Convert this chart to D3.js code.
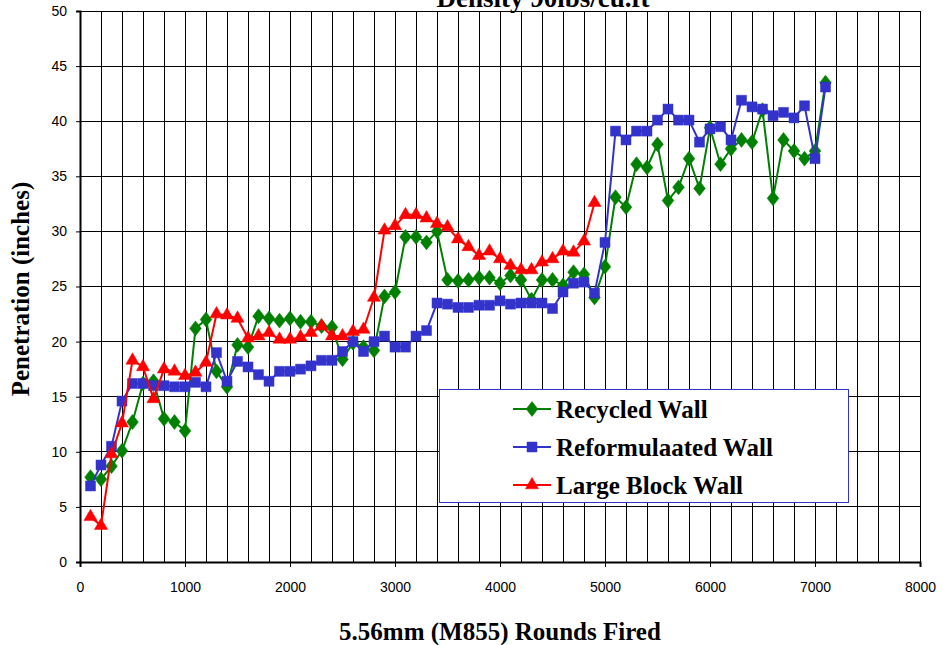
<!DOCTYPE html>
<html>
<head>
<meta charset="utf-8">
<script src="https://cdn.jsdelivr.net/npm/d3@7"></script>
<style>
html,body{margin:0;padding:0;background:#fff;}
svg{display:block;}
</style>
</head>
<body>
<script>
const rounds = [100,200,300,400,500,600,700,800,900,1000,1100,1200,1300,1400,1500,1600,1700,1800,1900,2000,2100,2200,2300,2400,2500,2600,2700,2800,2900,3000,3100,3200,3300,3400,3500,3600,3700,3800,3900,4000,4100,4200,4300,4400,4500,4600,4700,4800,4900,5000,5100,5200,5300,5400,5500,5600,5700,5800,5900,6000,6100,6200,6300,6400,6500,6600,6700,6800,6900,7000,7100];
const recycled = [7.7,7.5,8.7,10.1,12.7,16.2,16.4,13.0,12.7,11.9,21.2,22.0,17.3,15.9,19.7,19.5,22.3,22.1,21.9,22.1,21.8,21.8,21.4,21.3,18.4,19.9,19.5,19.2,24.1,24.5,29.5,29.5,29.0,30.0,25.6,25.5,25.6,25.8,25.8,25.3,26.0,25.6,23.8,25.6,25.6,25.1,26.3,26.1,24.0,26.8,33.1,32.2,36.1,35.8,37.9,32.8,34.0,36.6,33.9,39.4,36.1,37.5,38.3,38.1,41.0,33.0,38.3,37.3,36.6,37.3,43.5];
const reformulated = [6.9,8.8,10.5,14.6,16.2,16.2,16.0,16.0,15.9,15.9,16.3,15.9,19.0,16.4,18.2,17.7,17.0,16.4,17.3,17.3,17.5,17.8,18.3,18.3,19.1,20.0,19.1,20.0,20.5,19.5,19.5,20.5,21.0,23.5,23.4,23.1,23.1,23.3,23.3,23.7,23.4,23.5,23.5,23.5,23.0,24.5,25.3,25.4,24.4,29.0,39.1,38.3,39.1,39.1,40.1,41.1,40.1,40.1,38.1,39.3,39.5,38.3,41.9,41.3,41.1,40.5,40.8,40.3,41.4,36.6,43.1];
const largeBlock = [4.1,3.3,9.8,12.6,18.3,17.7,14.8,17.5,17.3,16.9,17.2,18.1,22.5,22.4,22.1,20.3,20.5,20.8,20.2,20.2,20.4,20.8,21.4,20.5,20.5,20.9,21.1,24.0,30.1,30.5,31.5,31.5,31.2,30.7,30.4,29.3,28.6,27.8,28.2,27.5,26.9,26.5,26.5,27.2,27.5,28.2,28.1,29.1,32.6];
const seriesNames = ["Recycled Wall","Reformulaated Wall","Large Block Wall"];
const xTicks = [0,1000,2000,3000,4000,5000,6000,7000,8000];
const yTicks = [0,5,10,15,20,25,30,35,40,45,50];
const titleText = "Density 90lbs/cu.ft";
const xTitle = "5.56mm (M855) Rounds Fired";
const yTitle = "Penetration (inches)";

const W = 943, H = 645;
const m = {left:80, right:23, top:11, bottom:83};
const svg = d3.select("body").append("svg").attr("width",W).attr("height",H);

const x = d3.scaleLinear().domain([0,8000]).range([m.left, W-m.right]);
const y = d3.scaleLinear().domain([0,50]).range([H-m.bottom, m.top]);

const grid = svg.append("g").attr("shape-rendering","crispEdges");
grid.selectAll(".vg").data(d3.range(200,8001,200)).enter().append("line")
  .attr("x1",d=>x(d)).attr("x2",d=>x(d)).attr("y1",y(0)).attr("y2",y(50))
  .attr("stroke","#000").attr("stroke-width",1);
grid.selectAll(".hg").data(yTicks.slice(1)).enter().append("line")
  .attr("x1",x(0)).attr("x2",x(8000)).attr("y1",d=>y(d)).attr("y2",d=>y(d))
  .attr("stroke","#000").attr("stroke-width",1);

// axes
const xAxis = svg.append("g").attr("transform",`translate(0,${y(0)})`)
  .call(d3.axisBottom(x).tickValues(xTicks).tickSize(5).tickPadding(15).tickFormat(d3.format("d")));
const yAxis = svg.append("g").attr("transform",`translate(${x(0)},0)`)
  .call(d3.axisLeft(y).tickValues(yTicks).tickSize(4).tickPadding(9));
[xAxis,yAxis].forEach(a=>{
  a.select(".domain").attr("stroke","#000").attr("stroke-width",2);
  a.selectAll(".tick line").attr("stroke","#000");
  a.selectAll("text").attr("font-family","'Liberation Sans', Arial, sans-serif").attr("font-size",14).attr("fill","#000");
});

const line = d3.line().x(d=>x(d[0])).y(d=>y(d[1]));
const series = [
  {name:seriesNames[0], data:rounds.map((r,i)=>[r,recycled[i]]), color:"#008000", marker:"diamond"},
  {name:seriesNames[1], data:rounds.map((r,i)=>[r,reformulated[i]]), color:"#3333cc", marker:"square"},
  {name:seriesNames[2], data:largeBlock.map((v,i)=>[rounds[i],v]), color:"#ff0000", marker:"triangle"}
];
const symType = {diamond:d3.symbolDiamond, square:d3.symbolSquare, triangle:d3.symbolTriangle};
const symSize = {diamond:64, square:100, triangle:75};

function drawMarker(g, s, cx, cy){
  g.append("path").attr("d", d3.symbol().type(symType[s.marker]).size(symSize[s.marker])())
   .attr("transform", `translate(${cx},${cy})` + (s.marker==="diamond" ? " scale(1.35,1)" : ""))
   .attr("fill", s.color).attr("stroke", s.color).attr("stroke-width", 0.5);
}

series.forEach(s=>{
  const g = svg.append("g");
  g.append("path").datum(s.data).attr("d",line).attr("fill","none")
    .attr("stroke",s.color).attr("stroke-width",2).attr("stroke-linejoin","round");
  s.data.forEach(d=>drawMarker(g, s, x(d[0]), y(d[1])));
});

// legend
const lg = svg.append("g");
lg.append("rect").attr("x",439.5).attr("y",389.5).attr("width",409).attr("height",113)
  .attr("fill","#fff").attr("stroke","#3333cc").attr("stroke-width",1);
const rowY = [409, 447, 485];
const serif = "'Liberation Serif', 'Times New Roman', serif";
series.forEach((s,i)=>{
  lg.append("line").attr("x1",513).attr("x2",551).attr("y1",rowY[i]).attr("y2",rowY[i])
    .attr("stroke",s.color).attr("stroke-width",2);
  drawMarker(lg, s, 532, rowY[i]);
  lg.append("text").attr("x",556).attr("y",rowY[i]+9).text(s.name)
    .attr("font-family",serif).attr("font-weight","bold")
    .attr("font-size",25).attr("fill","#000");
});

// titles
svg.append("text").attr("x",543).attr("y",7).attr("text-anchor","middle").text(titleText)
  .attr("font-family",serif).attr("font-weight","bold").attr("font-size",27);
svg.append("text").attr("x",500).attr("y",640).attr("text-anchor","middle").text(xTitle)
  .attr("font-family",serif).attr("font-weight","bold").attr("font-size",25);
svg.append("text").attr("transform","translate(29,289) rotate(-90)").attr("text-anchor","middle").text(yTitle)
  .attr("font-family",serif).attr("font-weight","bold").attr("font-size",25);
</script>
</body>
</html>
